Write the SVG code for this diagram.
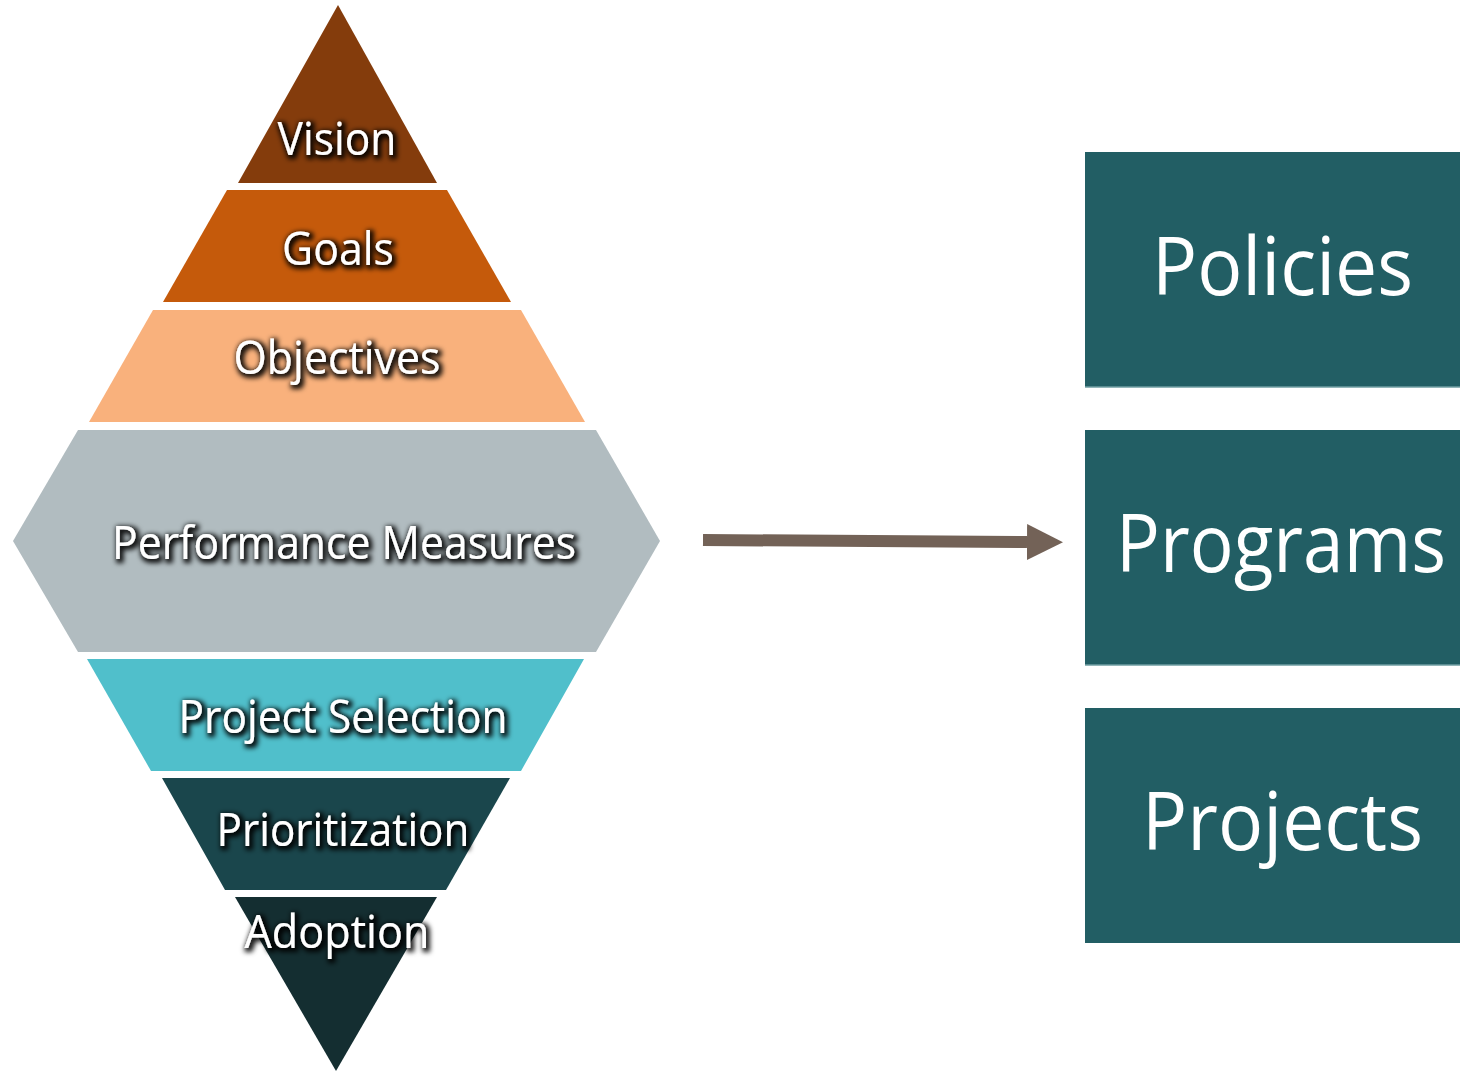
<svg xmlns="http://www.w3.org/2000/svg" width="1460" height="1071" viewBox="0 0 1460 1071">
<defs>
<filter id="glow" x="-20%" y="-40%" width="140%" height="180%">
<feMorphology in="SourceAlpha" operator="dilate" radius="1.8" result="d"/>
<feGaussianBlur in="d" stdDeviation="2.5" result="b"/>
<feOffset in="b" dx="1.5" dy="1.5" result="o"/>
<feFlood flood-color="#000" flood-opacity="0.9"/>
<feComposite in2="o" operator="in" result="s"/>
<feMerge><feMergeNode in="s"/><feMergeNode in="SourceGraphic"/></feMerge>
</filter>
<marker id="ah" markerUnits="userSpaceOnUse" markerWidth="36" markerHeight="36" refX="0" refY="18" orient="auto" viewBox="0 0 36 36">
<path d="M0,0 L36,18 L0,36 Z" fill="#736257"/>
</marker>
</defs>
<style>
.lab{font-family:"Open Sans","Noto Sans",sans-serif;font-size:46px;fill:#fff;text-anchor:middle;filter:url(#glow)}
.box{fill:#225E64}
.bl{font-family:"Open Sans","Noto Sans",sans-serif;font-size:80px;fill:#fff}
.edge{stroke:#6F9EA2;stroke-width:1.5}
</style>
<rect width="1460" height="1071" fill="#fff"/>
<g id="vision">
<polygon points="338,5 437,183 238,183" fill="#843C0C"/>
<text class="lab" x="337" y="155" textLength="119" lengthAdjust="spacingAndGlyphs">Vision</text>
</g>
<g id="goals">
<polygon points="227,190 447,190 511,302 163,302" fill="#C55A0B"/>
<text class="lab" x="338" y="265" textLength="112" lengthAdjust="spacingAndGlyphs">Goals</text>
</g>
<g id="objectives">
<polygon points="153,310 521,310 585,422 89,422" fill="#F9B17C"/>
<text class="lab" x="337" y="374" textLength="207" lengthAdjust="spacingAndGlyphs">Objectives</text>
</g>
<g id="performance">
<polygon points="78,430 596,430 660,541 596,652 78,652 13,541" fill="#B1BCC0"/>
<text class="lab" x="344" y="559" textLength="464" lengthAdjust="spacingAndGlyphs">Performance Measures</text>
</g>
<g id="project-selection">
<polygon points="87,659 584,659 521,771 151,771" fill="#50BFCB"/>
<text class="lab" x="343" y="733" textLength="329" lengthAdjust="spacingAndGlyphs">Project Selection</text>
</g>
<g id="prioritization">
<polygon points="162,778 510,778 446,890 225,890" fill="#1A464C"/>
<text class="lab" x="343" y="846" textLength="253" lengthAdjust="spacingAndGlyphs">Prioritization</text>
</g>
<g id="adoption">
<polygon points="235,897 437,897 336,1071" fill="#142E31"/>
<text class="lab" x="337" y="948" textLength="185" lengthAdjust="spacingAndGlyphs">Adoption</text>
</g>
<g id="connectors">
<path d="M703,540 L1027,542" stroke="#736257" stroke-width="12" fill="none" marker-end="url(#ah)"/>
</g>
<g id="policies">
<rect class="box" x="1085" y="152" width="375" height="235"/>
<line class="edge" x1="1085" y1="387" x2="1460" y2="387"/>
<text class="bl" x="1152" y="295" textLength="261" lengthAdjust="spacingAndGlyphs">Policies</text>
</g>
<g id="programs">
<rect class="box" x="1085" y="430" width="375" height="235"/>
<line class="edge" x1="1085" y1="665" x2="1460" y2="665"/>
<text class="bl" x="1116" y="572" textLength="330" lengthAdjust="spacingAndGlyphs">Programs</text>
</g>
<g id="projects">
<rect class="box" x="1085" y="708" width="375" height="235"/>
<text class="bl" x="1142" y="850" textLength="281" lengthAdjust="spacingAndGlyphs">Projects</text>
</g>
</svg>
